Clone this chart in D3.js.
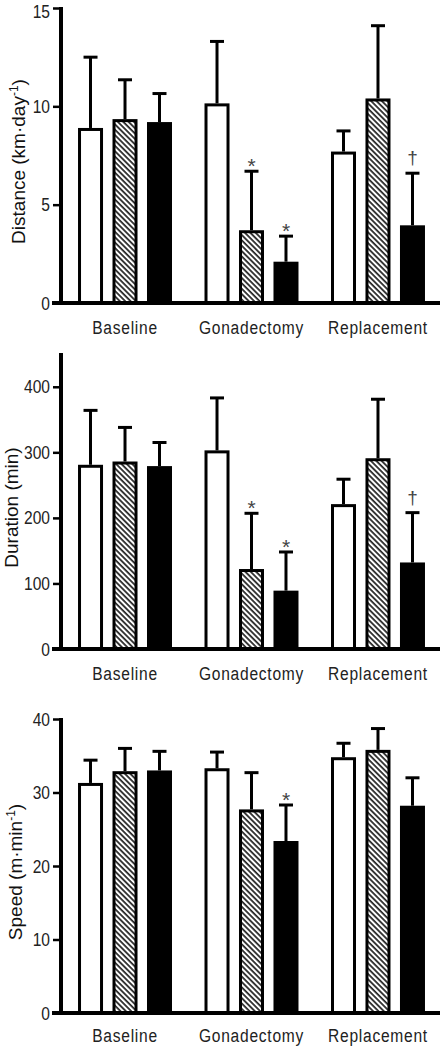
<!DOCTYPE html>
<html><head><meta charset="utf-8">
<script src="https://cdn.jsdelivr.net/npm/d3@7"></script>
<style>
html,body{margin:0;padding:0;background:#fff;}
svg{display:block;}
</style></head>
<body>
<svg id="c" width="440" height="1050"></svg>
<script>
const categories = ["Baseline", "Gonadectomy", "Replacement"];
const series = ["white", "hatched", "black"];

const distanceMean = [[8.9, 9.35, 9.2], [10.15, 3.7, 2.1], [7.7, 10.4, 3.95]];
const distanceErr  = [[12.5, 11.35, 10.65], [13.3, 6.7, 3.4], [8.75, 14.1, 6.6]];
const distanceMarks = [["", "", ""], ["", "*", "*"], ["", "", "†"]];
const distanceTicks = [0, 5, 10, 15];

const durationMean = [[281, 286, 279], [303, 122, 89], [221, 291, 132]];
const durationErr  = [[364, 338, 315], [383, 207, 148], [259, 381, 208]];
const durationMarks = [["", "", ""], ["", "*", "*"], ["", "", "†"]];
const durationTicks = [0, 100, 200, 300, 400];

const speedMean = [[31.3, 32.9, 33.0], [33.3, 27.7, 23.4], [34.8, 35.8, 28.2]];
const speedErr  = [[34.4, 36.0, 35.6], [35.5, 32.7, 28.3], [36.7, 38.7, 32.0]];
const speedMarks = [["", "", ""], ["", "", "*"], ["", "", ""]];
const speedTicks = [0, 10, 20, 30, 40];

const FONT = "Liberation Sans, Arial, sans-serif";
const SX = 0.82;

const svg = d3.select("#c");
const defs = svg.append("defs");
const pw = 3.8;
const pat = defs.append("pattern").attr("id","hatch").attr("patternUnits","userSpaceOnUse")
  .attr("width",pw).attr("height",pw).attr("patternTransform","rotate(-45)");
pat.append("rect").attr("width",pw).attr("height",pw).attr("fill","#fff");
pat.append("line").attr("x1",1).attr("y1",0).attr("x2",1).attr("y2",pw)
  .attr("stroke","#000").attr("stroke-width",1.5);

const x0 = d3.scaleBand().domain(categories).range([46.4, 456.6]).paddingInner(0.257).paddingOuter(0.25);
const x1 = d3.scaleBand().domain(series).range([0, x0.bandwidth()]).paddingInner(0.275).paddingOuter(0);
const axisX = 61;

const panels = [
  {mean: distanceMean, err: distanceErr, marks: distanceMarks, ticks: distanceTicks, domain:[0,15], range:[303, 8], label: ["Distance (km·day", "-1", ")"], labelX: 25, catY: 334},
  {mean: durationMean, err: durationErr, marks: durationMarks, ticks: durationTicks, domain:[0,450], range:[649, 354], label: ["Duration (min)"], labelX: 18, catY: 680},
  {mean: speedMean, err: speedErr, marks: speedMarks, ticks: speedTicks, domain:[0,40], range:[1013, 719], label: ["Speed (m·min", "-1", ")"], labelX: 22, catY: 1042}
];

panels.forEach(p => {
  const y = d3.scaleLinear().domain(p.domain).range(p.range);
  const g = svg.append("g");
  categories.forEach((c, ci) => {
    series.forEach((s, si) => {
      const bx = x0(c) + x1(s);
      const bw = x1.bandwidth();
      const cx = bx + bw/2;
      const v = p.mean[ci][si], e = p.err[ci][si];
      g.append("line").attr("x1",cx).attr("x2",cx).attr("y1",y(v)).attr("y2",y(e))
        .attr("stroke","#000").attr("stroke-width",3);
      g.append("line").attr("x1",cx-7).attr("x2",cx+7).attr("y1",y(e)).attr("y2",y(e))
        .attr("stroke","#000").attr("stroke-width",3);
      g.append("rect").attr("x",bx+1.5).attr("width",bw-3)
        .attr("y",y(v)+1.5).attr("height",y(0)-y(v)-1.5)
        .attr("fill", s==="white" ? "#fff" : s==="hatched" ? "url(#hatch)" : "#000")
        .attr("stroke","#000").attr("stroke-width",3);
      const m = p.marks[ci][si];
      if (m) {
        g.append("text").attr("x",cx).attr("y", m==="†" ? y(e) - 9 : y(e) + 2)
          .attr("text-anchor","middle").attr("fill","#444")
          .attr("font-family",FONT)
          .attr("font-size", m==="†" ? 19 : 21).text(m);
      }
    });
  });
  g.append("line").attr("x1",52).attr("x2",440).attr("y1",y(0)).attr("y2",y(0))
    .attr("stroke","#000").attr("stroke-width",4);
  const ax = d3.axisLeft(y).tickValues(p.ticks).tickSize(8).tickPadding(3).tickFormat(d3.format("d"));
  const ag = g.append("g").attr("transform",`translate(${axisX},0)`).call(ax);
  ag.select(".domain").attr("d", `M0,${p.range[1]-1}V${p.range[0]+2}`).attr("stroke","#000").attr("stroke-width",4);
  ag.selectAll(".tick line").attr("stroke","#000").attr("stroke-width",2.5);
  ag.selectAll(".tick text").attr("font-family",FONT).attr("font-size",19).attr("fill","#222")
    .attr("x", -11/SX).attr("transform",`scale(${SX},1)`)
    .attr("dy", d => (y(d) < 14 ? "0.5em" : "0.32em"));
  categories.forEach(c => {
    g.append("text").attr("transform",`translate(${x0(c) + x0.bandwidth()/2},${p.catY}) scale(${SX},1)`)
      .attr("text-anchor","middle").attr("font-family",FONT).attr("font-size",19)
      .attr("letter-spacing",0.9).attr("fill","#222").text(c);
  });
  const cy = (p.range[0] + p.range[1]) / 2 + 6;
  const t = g.append("text").attr("transform",`translate(${p.labelX},${cy}) rotate(-90)`)
    .attr("text-anchor","middle").attr("font-family",FONT)
    .attr("font-size",19).attr("fill","#111");
  t.append("tspan").text(p.label[0]);
  if (p.label.length > 1) {
    t.append("tspan").attr("dy",-7).attr("font-size",12).text(p.label[1]);
    t.append("tspan").attr("dy",7).text(p.label[2]);
  }
});
</script>
</body></html>
